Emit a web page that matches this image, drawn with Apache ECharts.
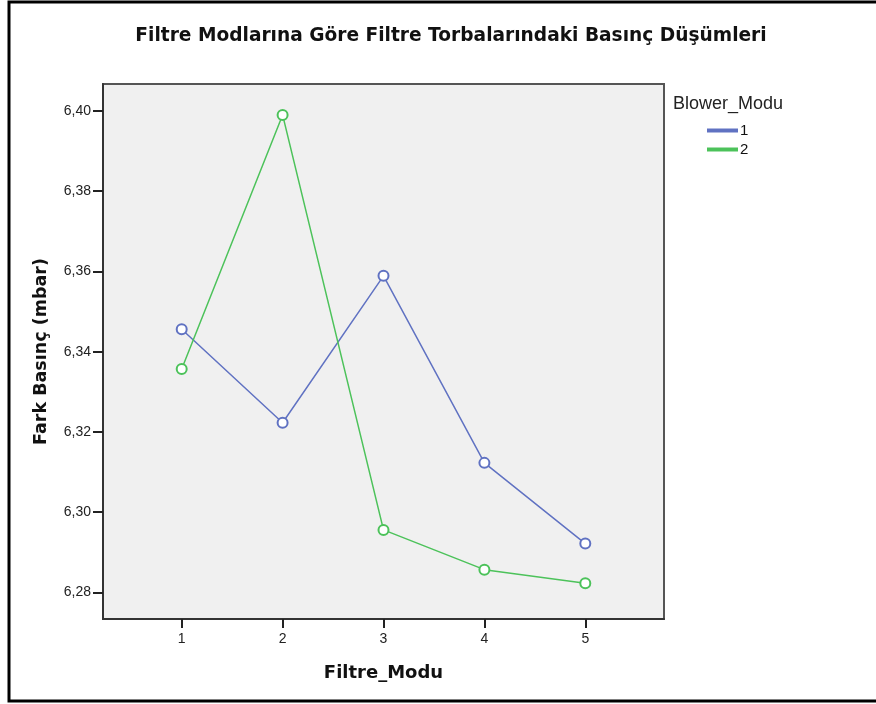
<!DOCTYPE html>
<html>
<head>
<meta charset="utf-8">
<script src="https://cdn.jsdelivr.net/npm/echarts@6/dist/echarts.min.js"></script>
<style>
  html, body { margin: 0; padding: 0; background: #fff; }
  #chart { width: 876px; height: 704px; }
</style>
</head>
<body>
<div id="chart"></div>
<script>
// Filter modes on the x axis
const filtreModu = [1, 2, 3, 4, 5];
// Mean differential pressure (mbar) per blower mode
const blower1 = [6.3456, 6.3223, 6.3589, 6.3123, 6.2922];
const blower2 = [6.3357, 6.3990, 6.2956, 6.2857, 6.2823];
const seriesNames = ['1', '2'];
const yTicks = [6.28, 6.30, 6.32, 6.34, 6.36, 6.38, 6.40];

const font = '"Liberation Sans", Arial, sans-serif';
const boldFont = '"DejaVu Sans", "Liberation Sans", sans-serif';
const chart = echarts.init(document.getElementById('chart'), null, { renderer: 'canvas' });

const mkSeries = (name, vals, color) => ({
  name: name,
  type: 'line',
  data: filtreModu.map((x, i) => [x, vals[i]]),
  symbol: 'emptyCircle',
  symbolSize: 10,
  showAllSymbol: true,
  lineStyle: { color: color, width: 1.5 },
  itemStyle: { color: color, borderColor: color, borderWidth: 1.5 },
  emphasis: { disabled: true },
  z: 3
});

chart.setOption({
  animation: false,
  backgroundColor: '#fff',
  title: [{
    text: 'Filtre Modlarına Göre Filtre Torbalarındaki Basınç Düşümleri',
    left: 446, top: 22, textAlign: 'center',
    textStyle: { fontFamily: boldFont, fontSize: 18.6, fontWeight: 'bold', color: '#111' }
  }, {
    text: 'Blower_Modu',
    left: 668, top: 90,
    textStyle: { fontFamily: font, fontSize: 18, fontWeight: 'normal', color: '#222' }
  }],
  legend: {
    orient: 'vertical',
    left: 702, top: 118,
    itemWidth: 29, itemHeight: 2,
    itemGap: 4,
    icon: 'rect',
    data: [
      { name: seriesNames[0], itemStyle: { color: '#8a98d2' }, lineStyle: { color: '#8a98d2' } },
      { name: seriesNames[1], itemStyle: { color: '#52c45f' }, lineStyle: { color: '#52c45f' } }
    ],
    textStyle: { fontFamily: font, fontSize: 15, lineHeight: 15, color: '#111', padding: [0, 0, 0, -2] }
  },
  grid: {
    left: 103, top: 84, width: 561, height: 535,
    show: true, backgroundColor: '#f0f0f0', borderColor: '#555', borderWidth: 2
  },
  xAxis: {
    type: 'value',
    min: 0.22, max: 5.78,
    name: 'Filtre_Modu',
    nameLocation: 'middle', nameGap: 45,
    nameTextStyle: { fontFamily: boldFont, fontSize: 18, fontWeight: 'bold', color: '#111' },
    axisLine: { show: true, lineStyle: { color: '#333', width: 2 } },
    axisTick: { show: true, length: 9, lineStyle: { color: '#222', width: 2 }, customValues: filtreModu },
    axisLabel: { fontFamily: font, fontSize: 14, color: '#222', margin: 13, customValues: filtreModu,
      formatter: v => String(v) },
    splitLine: { show: false }
  },
  yAxis: {
    type: 'value',
    min: 6.2734, max: 6.4067,
    name: 'Fark Basınç (mbar)',
    nameLocation: 'middle', nameGap: 53, nameRotate: 90,
    nameTextStyle: { fontFamily: boldFont, fontSize: 17.5, fontWeight: 'bold', color: '#111' },
    axisLine: { show: true, lineStyle: { color: '#333', width: 2 } },
    axisTick: { show: true, length: 10, lineStyle: { color: '#222', width: 2 }, customValues: yTicks },
    axisLabel: { fontFamily: font, fontSize: 14, color: '#222', margin: 12, customValues: yTicks,
      formatter: v => v.toFixed(2).replace('.', ',') },
    splitLine: { show: false }
  },
  series: [
    mkSeries(seriesNames[0], blower1, '#6072c2'),
    mkSeries(seriesNames[1], blower2, '#4cc25a')
  ],
  graphic: [{
    type: 'rect',
    shape: { x: 9, y: 2, width: 900, height: 699 },
    style: { fill: 'none', stroke: '#000', lineWidth: 3 },
    silent: true, z: 100
  }]
});
</script>
</body>
</html>
